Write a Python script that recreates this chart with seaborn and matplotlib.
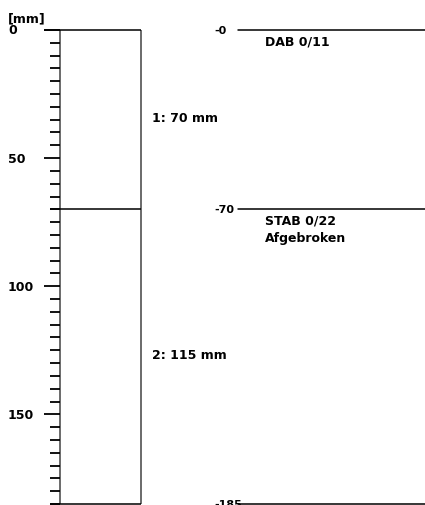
import matplotlib
matplotlib.use("Agg")
import matplotlib.pyplot as plt
import seaborn as sns
import pandas as pd
import numpy as np

# ---- data ----
layer_tops = [0, 70]
layer_bottoms = [70, 185]
layer_labels = ["1: 70 mm", "2: 115 mm"]
layer_names = [["DAB 0/11"], ["STAB 0/22", "Afgebroken"]]
boundaries = [0, 70, 185]
boundary_labels = ["-0", "-70", "-185"]
scale_ticks = list(range(0, 186, 5))
scale_major = [0, 50, 100, 150]
unit_label = "[mm]"

sns.set_style("white")
plt.rcParams['font.family'] = ['DejaVu Sans']
plt.rcParams['text.color'] = 'black'

W, H = 425, 506
PX_PER_MM = 474 / 185.0
Y0 = 31
fig = plt.figure(figsize=(W / 100, H / 100), dpi=100)
ax = fig.add_axes([0, 0, 1, 1])

fs = 9
# core rectangle sides
ax.vlines([60, 141], 0, 185, color="#6a6a6a", lw=1.4)
# layer boundaries on core
for b in boundaries:
    left = 44 if b in scale_major else 50
    ax.hlines(b, left, 141, color="black", lw=1.1)
# scale ticks
for t in scale_ticks:
    left = 44 if t in scale_major else 50
    ax.hlines(t, left, 60, color="black", lw=1.3)
for t in scale_major:
    ax.text(8, t, str(t), ha="left", va="center", fontsize=fs, fontweight="bold", color="black")
ax.text(8, -Y0 / PX_PER_MM + 19 / PX_PER_MM, unit_label, ha="left", va="center",
        fontsize=fs, fontweight="bold", color="black")

# thickness labels
for top, bot, lab in zip(layer_tops, layer_bottoms, layer_labels):
    ax.text(152, (top + bot) / 2 - 0.8, lab, ha="left", va="center", fontsize=fs,
            fontweight="bold", color="black")

# right-side boundary lines via seaborn
segs = pd.DataFrame({
    "x": [238, 425] * len(boundaries),
    "y": np.repeat(boundaries, 2),
    "id": np.repeat(range(len(boundaries)), 2),
})
sns.lineplot(data=segs, x="x", y="y", units="id", estimator=None, color="black",
             lw=1.1, ax=ax, legend=False, sort=False)
ax.set_xlim(0, W)
ax.set_ylim((H - Y0) / PX_PER_MM, -Y0 / PX_PER_MM)
ax.axis("off")
for b, lab in zip(boundaries, boundary_labels):
    ax.text(214, b, lab, ha="left", va="center", fontsize=fs - 1, fontweight="bold", color="black")

# layer names
for top, names in zip(layer_tops, layer_names):
    for i, n in enumerate(names):
        ax.text(265, top + (11 + 17.5 * i) / PX_PER_MM, n, ha="left", va="center",
                fontsize=fs, fontweight="bold", color="black")

fig.savefig("out.png", dpi=100)
